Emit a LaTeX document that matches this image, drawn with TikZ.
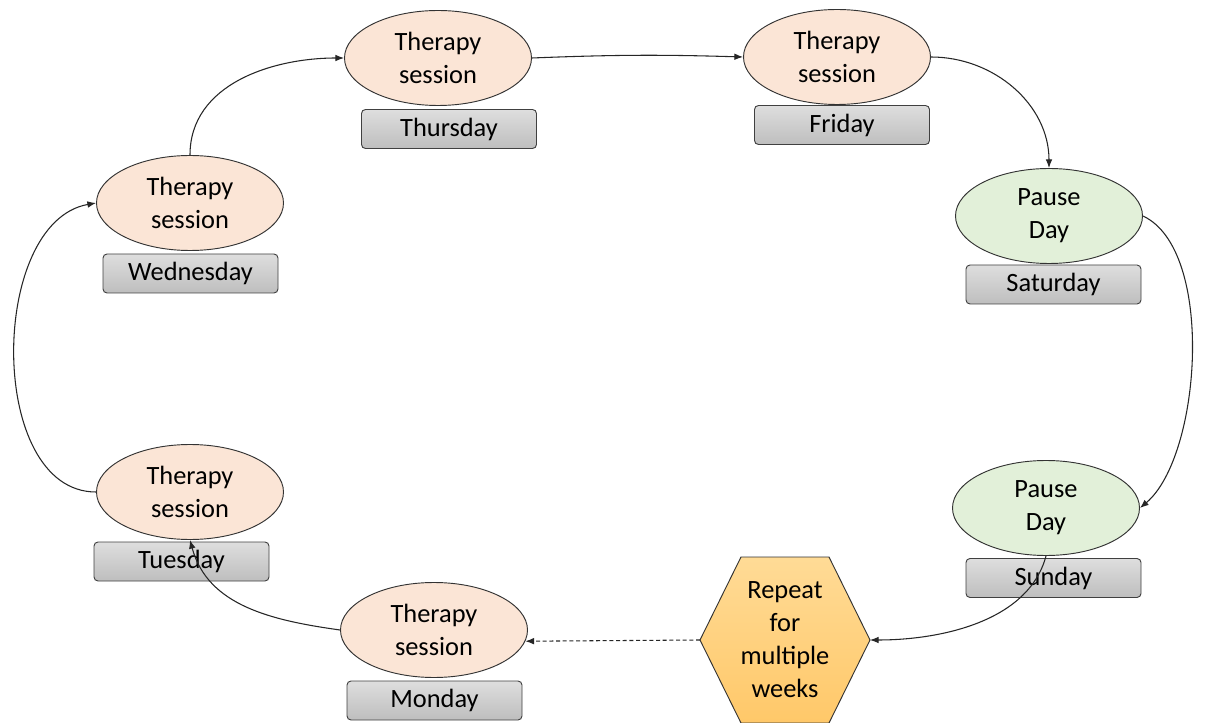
\documentclass[tikz,border=0pt]{standalone}
\usepackage{fontspec}
\setmainfont{Carlito}
\usetikzlibrary{shapes.geometric,arrows.meta}
\definecolor{peach}{RGB}{251,229,214}
\definecolor{mint}{RGB}{226,240,217}
\definecolor{hexlight}{RGB}{255,219,150}
\definecolor{hexdark}{RGB}{255,200,105}
\definecolor{boxlight}{RGB}{222,222,222}
\definecolor{boxdark}{RGB}{190,190,190}
\tikzset{
  txt/.style={font=\fontsize{19.8}{24.8}\selectfont, align=center},
  therapy/.style={txt, ellipse, draw=black!80, line width=0.7pt, fill=peach,
    minimum width=140.25pt, minimum height=71.25pt, inner sep=0pt},
  pause/.style={therapy, fill=mint},
  daybox/.style={txt, draw=black!75, line width=0.7pt, rounded corners=3pt,
    top color=boxlight, bottom color=boxdark,
    minimum width=131.25pt, minimum height=29.25pt, inner sep=0pt},
  conn/.style={draw=black!85, line width=0.8pt, -{Latex[length=6.5pt,width=5pt]}},
}
\begin{document}
\begin{tikzpicture}[x=0.75pt, y=-0.75pt]
\useasboundingbox (0,0) rectangle (1206,723);
% therapy / pause ellipses
\node[therapy] (wed) at (190,203) {Therapy\\session};
\node[therapy] (thu) at (438,58) {Therapy\\session};
\node[therapy] (fri) at (837,57) {Therapy\\session};
\node[pause]   (sat) at (1049,216) {Pause\\Day};
\node[pause]   (sun) at (1046,508) {Pause\\Day};
\node[therapy] (mon) at (434,630) {Therapy\\session};
\node[therapy] (tue) at (190,492) {Therapy\\session};
% day labels
\node[daybox] (wedD) at (190.5,273.5) {Wednesday};
\node[daybox] (thuD) at (449,129) {Thursday};
\node[daybox] (friD) at (842,125) {Friday};
\node[daybox] (satD) at (1053.5,284.5) {Saturday};
\node[daybox] (sunD) at (1053.5,578) {Sunday};
\node[daybox] (monD) at (434.5,700.5) {Monday};
\node[daybox] (tueD) at (181.5,561.5) {Tuesday};
% hexagon
\coordinate (hexL) at (700,640);
\coordinate (hexR) at (870,640);
\coordinate (hexTL) at (741,557);
\coordinate (hexTR) at (829,557);
\coordinate (hexBL) at (741,723);
\coordinate (hexBR) at (829,723);
\draw[draw=black!80, line width=0.7pt, top color=hexlight, bottom color=hexdark]
  (hexL) -- (hexTL) -- (hexTR) -- (hexR) -- (hexBR) -- (hexBL) -- cycle;
\node[txt] (hex) at (785,640) {Repeat\\for\\multiple\\weeks};
% connectors
\draw[conn] (wed.north) to[out=90, in=180] (thu.west);
\draw[conn] (thu.east) to[bend left=2] (fri.west);
\draw[conn] (fri.east) to[out=0, in=90] (sat.north);
\draw[conn] (sat.east) to[out=-25, in=40, looseness=0.7] (sun.east);
\draw[conn] (sun.south) to[out=-105, in=0, looseness=0.9] (hexR);
\draw[conn, dashed, dash pattern=on 3pt off 2pt] (hexL) -- (mon.-7);
\draw[conn] (mon.west) to[out=172, in=-75] (tue.south);
\draw[conn] (tue.west) to[out=180, in=190, looseness=0.97] (wed.west);
\end{tikzpicture}
\end{document}
